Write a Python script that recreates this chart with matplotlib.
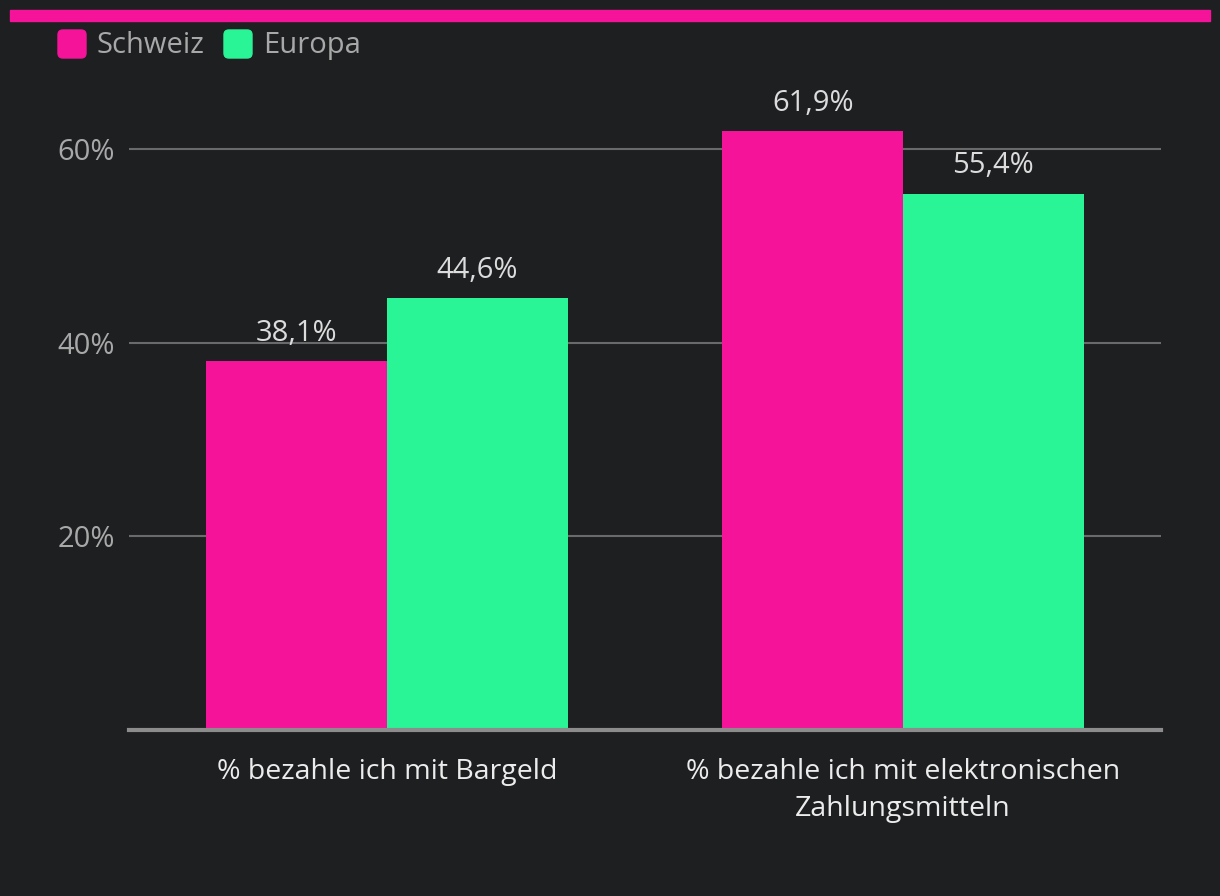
import matplotlib.pyplot as plt
from matplotlib.patches import FancyBboxPatch, Rectangle
import numpy as np

# data
categories = ['% bezahle ich mit Bargeld', '% bezahle ich mit elektronischen\nZahlungsmitteln']
series = ['Schweiz', 'Europa']
schweiz = [38.1, 61.9]
europa = [44.6, 55.4]
colors = ['#f5139a', '#2af596']

bg = '#1e1f21'
plt.rcParams['font.family'] = ['Open Sans', 'DejaVu Sans']

fig = plt.figure(figsize=(12.2, 8.96), dpi=100, facecolor=bg)
ax = fig.add_axes([129 / 1220, 1 - 730 / 896, 1032 / 1220, 639 / 896])
ax.set_facecolor(bg)

x = np.arange(len(categories))
w = 0.35
for i, (vals, c) in enumerate(zip([schweiz, europa], colors)):
    pos = x - w / 2 + i * w
    ax.bar(pos, vals, width=w, color=c, zorder=3)
    for xp, v in zip(pos, vals):
        ax.annotate(f'{v:.1f}%'.replace('.', ','), (xp, v), xytext=(0, 14.5),
                    textcoords='offset points', ha='center', va='baseline',
                    fontsize=21, color='#dcdcdc')

ax.set_xlim(-0.5, 1.5)
ax.set_ylim(0, 66)
ax.set_yticks([20, 40, 60])
ax.set_yticklabels(['20%', '40%', '60%'])
ax.yaxis.grid(True, color='#6a6a6a', linewidth=1.5, zorder=0)
ax.set_xticks(x)
ax.set_xticklabels(categories, fontsize=20.5, color='#ececec', linespacing=1.45)
ax.tick_params(axis='y', length=0, labelsize=21, labelcolor='#a8a8a8', pad=10)
ax.tick_params(axis='x', length=0, pad=20)
for s in ['top', 'right', 'left']:
    ax.spines[s].set_visible(False)
ax.spines['bottom'].set_color('#8c8c8c')
ax.spines['bottom'].set_linewidth(3)
ax.spines['bottom'].set_zorder(4)

# top accent strip
fig.patches.append(Rectangle((10 / 1220, 1 - 21 / 896), 1200 / 1220, 11 / 896,
                             transform=fig.transFigure, color=colors[0], zorder=5))

# legend
lx = [58, 224]
for name, c, px in zip(series, colors, lx):
    fig.patches.append(FancyBboxPatch((px / 1220, 1 - 58 / 896), 28 / 1220, 28 / 896,
                                      boxstyle='round,pad=0,rounding_size=0.004',
                                      transform=fig.transFigure, color=c,
                                      mutation_aspect=1220 / 896))
    fig.text((px + 39) / 1220, 1 - 45.5 / 896, name, fontsize=21, color='#a8a8a8',
             va='center', ha='left')

fig.savefig('out.png', dpi=100, facecolor=bg)
